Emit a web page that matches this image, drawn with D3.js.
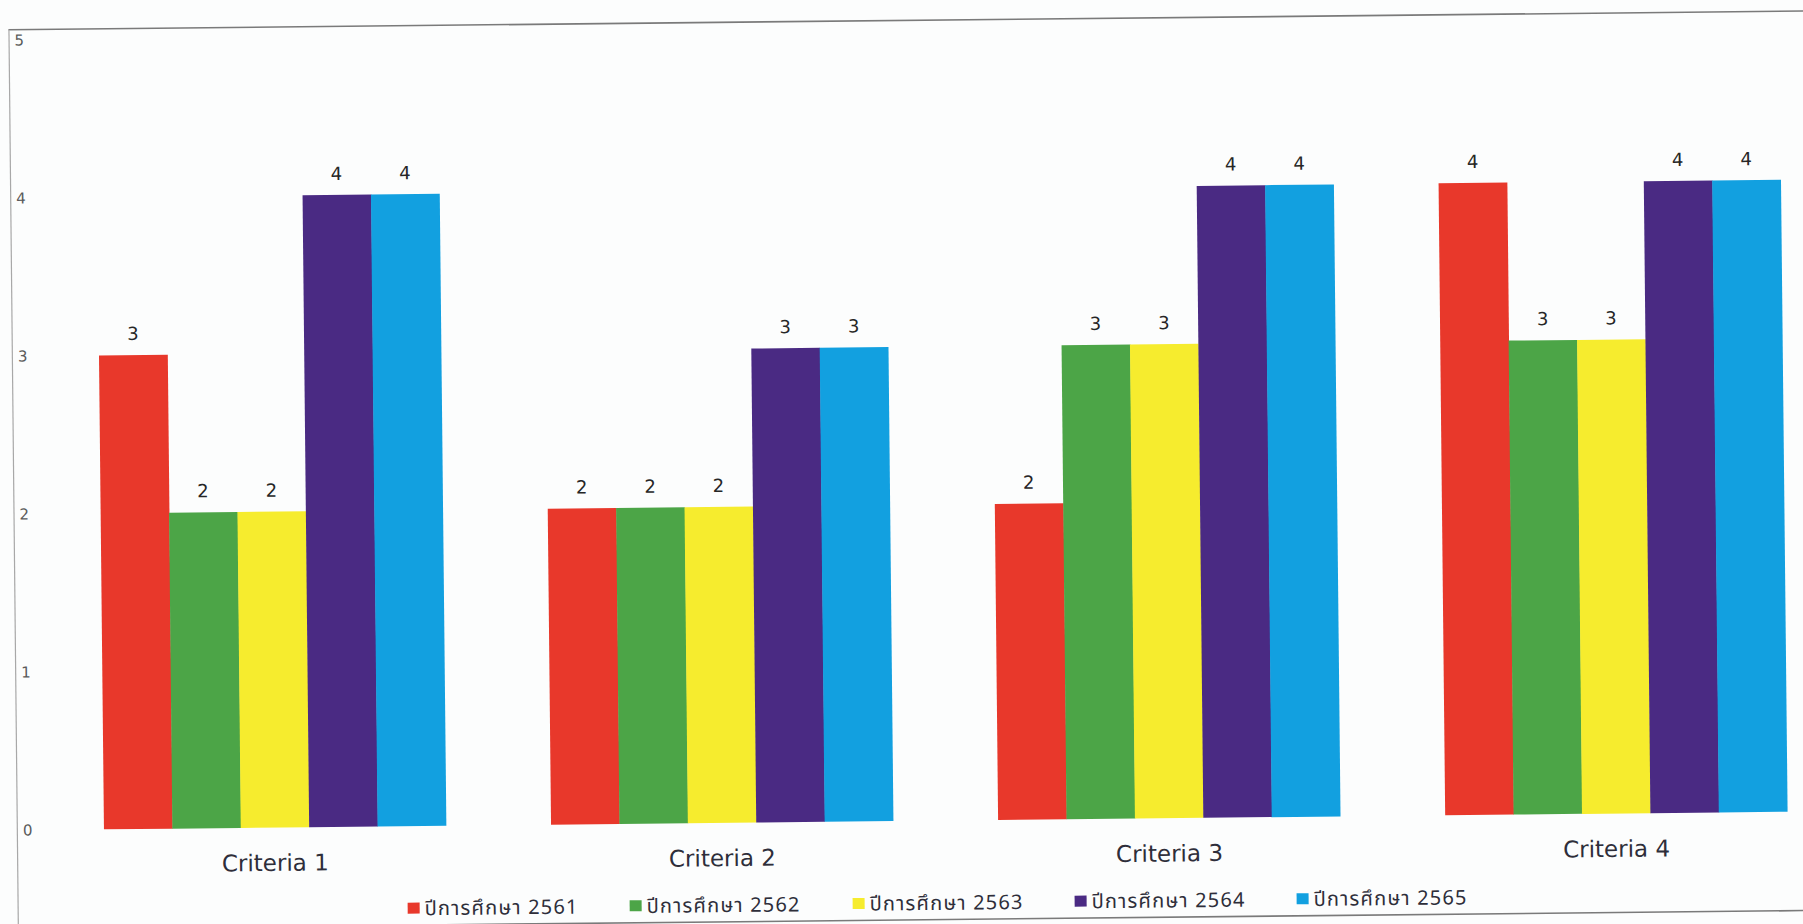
<!DOCTYPE html>
<html>
<head>
<meta charset="utf-8">
<script src="https://cdn.jsdelivr.net/npm/d3@7"></script>
<style>
  html, body { margin: 0; padding: 0; background: #fcfdfd; }
  svg { display: block; }
</style>
</head>
<body>
<svg id="chart" width="1803" height="924"></svg>
<script>
// ---- data ----
const categories = ["Criteria 1", "Criteria 2", "Criteria 3", "Criteria 4"];
const seriesNames = ["ปีการศึกษา 2561", "ปีการศึกษา 2562", "ปีการศึกษา 2563", "ปีการศึกษา 2564", "ปีการศึกษา 2565"];
const values2561 = [3, 2, 2, 4];
const values2562 = [2, 2, 3, 3];
const values2563 = [2, 2, 3, 3];
const values2564 = [4, 3, 4, 4];
const values2565 = [4, 3, 4, 4];
const yTicks = [0, 1, 2, 3, 4, 5];
const seriesColors = ["#e8382b", "#4ca547", "#f6ec2e", "#4a2a83", "#12a0e0"];

const seriesValues = [values2561, values2562, values2563, values2564, values2565];

// ---- layout ----
const W = 1803, H = 924;
const svg = d3.select("#chart");
svg.append("rect").attr("width", W).attr("height", H).attr("fill", "#fcfdfd");

// scanned page is slightly tilted
const g = svg.append("g").attr("transform", "rotate(-0.6, 900, 460)");

// frame
g.append("line").attr("x1", 13).attr("x2", 1900).attr("y1", 20.5).attr("y2", 20.5)
  .attr("stroke", "#7a7a7a").attr("stroke-width", 1.6);
g.append("line").attr("x1", 13.5).attr("x2", 13.5).attr("y1", 20.5).attr("y2", 940)
  .attr("stroke", "#a8a8a8").attr("stroke-width", 1.2);
g.append("line").attr("x1", 13).attr("x2", 1900).attr("y1", 920).attr("y2", 920)
  .attr("stroke", "#7a7a7a").attr("stroke-width", 1.6);

const x0 = d3.scaleBand().domain(categories).range([47.6, 1836])
  .paddingInner(0.235).paddingOuter(0.1175);
const x1 = d3.scaleBand().domain(d3.range(seriesNames.length)).range([0, x0.bandwidth()]).padding(0);
const y = d3.scaleLinear().domain([0, 5]).range([821, 31]);

// y axis labels
const yAxis = g.append("g").attr("transform", "translate(19,0)")
  .call(d3.axisRight(y).tickValues(yTicks).tickSize(0).tickPadding(0).tickFormat(d3.format("d")));
yAxis.select(".domain").remove();
yAxis.selectAll("text").attr("font-family", "DejaVu Sans, sans-serif").attr("font-size", 15)
  .attr("fill", "#5a5a5a");

// bars
const groups = g.selectAll(".grp").data(categories).enter().append("g")
  .attr("class", "grp").attr("transform", d => `translate(${x0(d)},0)`);

groups.each(function(cat, ci) {
  const gg = d3.select(this);
  const rows = seriesNames.map((s, si) => ({ si, v: seriesValues[si][ci] }));
  gg.selectAll("rect").data(rows).enter().append("rect")
    .attr("x", d => x1(d.si))
    .attr("width", x1.bandwidth() + 0.4)
    .attr("y", d => y(d.v))
    .attr("height", d => y(0) - y(d.v))
    .attr("fill", d => seriesColors[d.si]);
  gg.selectAll("text.lbl").data(rows).enter().append("text")
    .attr("class", "lbl")
    .attr("x", d => x1(d.si) + x1.bandwidth() / 2)
    .attr("y", d => y(d.v) - 15)
    .attr("text-anchor", "middle")
    .attr("font-family", "DejaVu Sans, sans-serif")
    .attr("font-size", 18)
    .attr("fill", "#262626")
    .text(d => d.v);
});

// x axis labels
const xAxis = g.append("g").attr("transform", `translate(0,${y(0)})`)
  .call(d3.axisBottom(x0).tickSize(0).tickPadding(27));
xAxis.select(".domain").remove();
xAxis.selectAll("text").attr("font-family", "DejaVu Sans, sans-serif").attr("font-size", 23)
  .attr("fill", "#2e2e3a");

// legend
const legendX = [403, 625, 848, 1070, 1292];
const legend = g.append("g").attr("transform", "translate(0,903)");
const items = legend.selectAll("g").data(seriesNames).enter().append("g")
  .attr("transform", (d, i) => `translate(${legendX[i]},0)`);
items.append("rect").attr("x", 0).attr("y", -5.5).attr("width", 12).attr("height", 11)
  .attr("fill", (d, i) => seriesColors[i]);
items.append("text").attr("x", 17).attr("y", 0).attr("dy", "0.36em")
  .attr("font-family", "'Noto Sans Thai', 'Leelawadee UI', Tahoma, 'DejaVu Sans', sans-serif")
  .attr("font-size", 20).attr("letter-spacing", 1.2).attr("fill", "#2e2e3a")
  .text(d => d);
</script>
</body>
</html>
